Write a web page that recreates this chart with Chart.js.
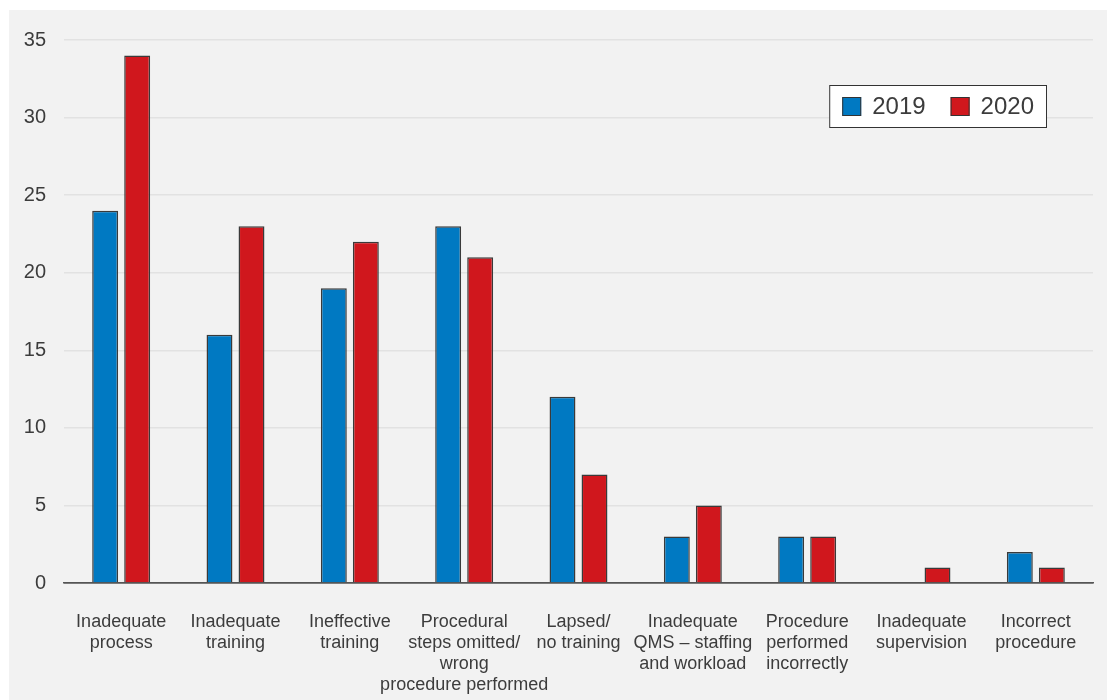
<!DOCTYPE html>
<html>
<head>
<meta charset="utf-8">
<script src="https://cdn.jsdelivr.net/npm/chart.js@4"></script>
<style>
  html, body { margin: 0; padding: 0; background: #fff; }
  #panel { position: absolute; left: 9px; top: 10px; width: 1098px; height: 690px; background: #f2f2f2; }
</style>
</head>
<body>
<div id="panel"><canvas id="causesChart"></canvas></div>
<script>
// Data
const categories = [
    ['Inadequate', 'process'],
    ['Inadequate', 'training'],
    ['Ineffective', 'training'],
    ['Procedural', 'steps omitted/', 'wrong', 'procedure performed'],
    ['Lapsed/', 'no training'],
    ['Inadequate', 'QMS – staffing', 'and workload'],
    ['Procedure', 'performed', 'incorrectly'],
    ['Inadequate', 'supervision'],
    ['Incorrect', 'procedure']
];
const values2019 = [24, 16, 19, 23, 12, 3, 3, 0, 2];
const values2020 = [34, 23, 22, 21, 7, 5, 3, 1, 1];
const yTicks = [0, 5, 10, 15, 20, 25, 30, 35];

const FONT = '"Liberation Sans", Arial, sans-serif';
const TEXT = '#3c3c3c';

// Boxed legend drawn inside the plot area (top right)
const boxLegend = {
    id: 'boxLegend',
    afterDraw(chart) {
        const ctx = chart.ctx;
        const area = chart.chartArea;
        const sw = 19, gapSw = 11, gapItem = 25, padX = 13, h = 43;
        ctx.save();
        ctx.font = '24px ' + FONT;
        const items = chart.data.datasets.map(d => ({ label: d.label, color: d.backgroundColor, w: ctx.measureText(d.label).width }));
        let w = padX * 2;
        items.forEach((it, i) => { w += sw + gapSw + it.w + (i ? gapItem : 0); });
        const x0 = area.right - 46 - w;
        const y0 = area.top + 45;
        ctx.fillStyle = '#fff';
        ctx.fillRect(x0, y0, w, h);
        ctx.strokeStyle = '#333';
        ctx.lineWidth = 1;
        ctx.strokeRect(x0 + 0.5, y0 + 0.5, w - 1, h - 1);
        let x = x0 + padX;
        items.forEach((it, i) => {
            if (i) x += gapItem;
            ctx.fillStyle = it.color;
            ctx.fillRect(x, y0 + 12, sw, sw);
            ctx.strokeRect(x + 0.5, y0 + 12.5, sw - 1, sw - 1);
            x += sw + gapSw;
            ctx.fillStyle = TEXT;
            ctx.textBaseline = 'middle';
            ctx.fillText(it.label, x, y0 + h / 2 + 1);
            x += it.w;
        });
        ctx.restore();
    }
};

new Chart(document.getElementById('causesChart').getContext('2d'), {
    type: 'bar',
    data: {
        labels: categories,
        datasets: [
            { label: '2019', data: values2019, backgroundColor: '#0079c2', borderColor: '#3a3a3a', borderWidth: 1.5 },
            { label: '2020', data: values2020, backgroundColor: '#d0171d', borderColor: '#3a3a3a', borderWidth: 1.5 }
        ]
    },
    options: {
        responsive: true,
        maintainAspectRatio: false,
        animation: false,
        categoryPercentage: 0.56,
        barPercentage: 0.81,
        layout: { padding: { top: 29, right: 14, left: 0, bottom: 0 } },
        plugins: {
            legend: { display: false },
            tooltip: { enabled: false }
        },
        scales: {
            x: {
                grid: { display: false },
                border: { display: true, color: '#555', width: 1.5 },
                ticks: {
                    autoSkip: false,
                    maxRotation: 0,
                    minRotation: 0,
                    padding: 20,
                    color: TEXT,
                    font: { family: FONT, size: 18, lineHeight: 1.18 }
                },
                afterFit(scale) { scale.height = 117; }
            },
            y: {
                min: 0,
                max: 35,
                afterBuildTicks(scale) { scale.ticks = yTicks.map(v => ({ value: v })); },
                border: { display: false },
                grid: {
                    drawTicks: false,
                    lineWidth: 1.5,
                    color: c => c.tick && c.tick.value === 0 ? '#555' : '#e2e2e2'
                },
                ticks: {
                    padding: 18,
                    color: TEXT,
                    font: { family: FONT, size: 20 }
                },
                afterFit(scale) { scale.width = 55; }
            }
        }
    },
    plugins: [boxLegend]
});
</script>
</body>
</html>
